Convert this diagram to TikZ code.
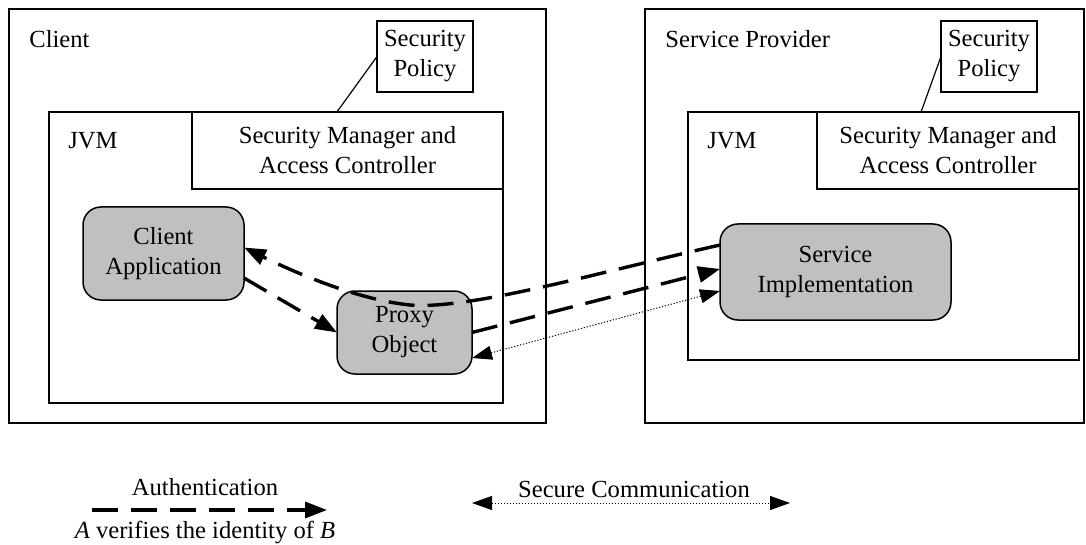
\documentclass[tikz,border=0pt]{standalone}
\usepackage{fontspec}
\setmainfont{Liberation Serif}
\usetikzlibrary{arrows.meta,fit,calc}
\definecolor{appgray}{RGB}{192,192,192}
\begin{document}
\begin{tikzpicture}[x=0.5pt,y=-0.5pt,
  font=\fontsize{12.3pt}{15pt}\selectfont,
  cbox/.style={draw, line width=1pt, inner sep=0pt, outer sep=0pt},
  gbox/.style={draw, line width=0.75pt, fill=appgray, rounded corners=9pt,
               inner sep=0pt, outer sep=0pt},
  boxtext/.style={align=center, inner sep=0pt},
  boxtag/.style={anchor=west, inner sep=0pt},
  authline/.style={line width=1.7pt, dash pattern=on 13pt off 6.5pt,
                   -{Triangle[length=11pt,width=8pt]}},
  secline/.style={line width=0.5pt, dash pattern=on 0.6pt off 0.9pt,
                  {Triangle[length=10pt,width=7pt]}-{Triangle[length=10pt,width=7pt]}},
  polline/.style={line width=0.6pt}]
\useasboundingbox (0,0) rectangle (1086,545);

% ---- client side ----
\node[cbox, fit={(9,9) (546,423)}] (client) {};
\node[boxtag] (clientTag) at (29,39) {Client};
\node[cbox, fit={(49,112) (503,403)}] (jvmC) {};
\node[boxtag] (jvmCTag) at (68,141) {JVM};
\node[cbox, fit={(192,112) (503,189)}] (smC) {};
\node[boxtext] (smCText) at (smC.center) {Security Manager and\\Access Controller};
\node[cbox, fit={(377,21) (473,92)}] (polC) {};
\node[boxtext] (polCText) at (polC.center) {Security\\Policy};
\draw[polline] (polC.west) -- ($(smC.north west)!0.466!(smC.north east)$);

% ---- service provider side ----
\node[cbox, fit={(645,9) (1084,423)}] (sp) {};
\node[boxtag] (spTag) at (665,39) {Service Provider};
\node[cbox, fit={(688,112) (1079,360)}] (jvmS) {};
\node[boxtag] (jvmSTag) at (707,141) {JVM};
\node[cbox, fit={(817,112) (1079,189)}] (smS) {};
\node[boxtext] (smSText) at (smS.center) {Security Manager and\\Access Controller};
\node[cbox, fit={(941,21) (1037,92)}] (polS) {};
\node[boxtext] (polSText) at (polS.center) {Security\\Policy};
\draw[polline] (polS.west) -- ($(smS.north west)!0.397!(smS.north east)$);

% ---- application objects ----
\node[gbox, fit={(83,207) (244,300)}] (app) {};
\node[boxtext] (appText) at (app.center) {Client\\Application};
\node[gbox, fit={(337,291) (472,374)}] (proxy) {};
\node[boxtext] (proxyText) at (proxy.center) {Proxy\\Object};
\node[gbox, fit={(720,224) (951,320)}] (impl) {};
\node[boxtext] (implText) at (impl.center) {Service\\Implementation};

% ---- authentication and communication ----
\draw[authline] ([yshift=-12.25pt]app.east) -- (proxy.west);
\draw[authline] (proxy.east) -- ([yshift=1.5pt]impl.west);
\draw[authline] ([yshift=13.5pt]impl.west)
  .. controls (600,272) and (470,310) .. (410,305)
  .. controls (360,300) and (300,275) .. ([yshift=3pt]app.east);
\draw[secline] ([yshift=-12.75pt]proxy.east) -- ([yshift=-9.5pt]impl.west);

% ---- legend ----
\coordinate (aL) at (92,510);
\coordinate (aR) at (327,510);
\draw[authline] (aL) -- (aR);
\node (authText) at (205,487) {Authentication};
\node (authNote) at (205,532) {\textit{A} verifies the identity of \textit{B}};
\coordinate (sL) at (472,503);
\coordinate (sR) at (790,503);
\draw[secline] (sL) -- (sR);
\node (secText) at (634,489) {Secure Communication};
\end{tikzpicture}
\end{document}
